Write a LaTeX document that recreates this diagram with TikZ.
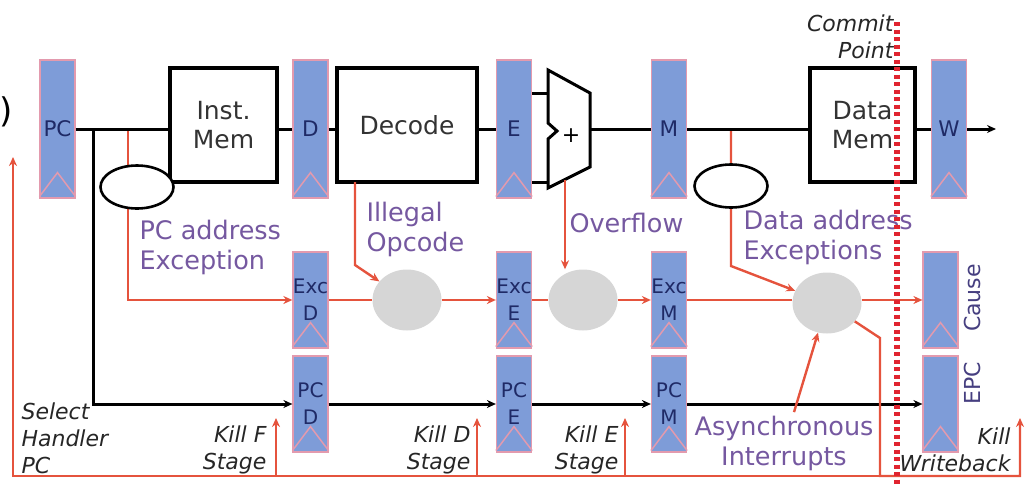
\documentclass[tikz,border=0pt]{standalone}
\usepackage{fontspec}
\setmainfont{DejaVu Sans}
\usetikzlibrary{
  positioning,
  shapes.geometric,        % ellipse ovals and blobs
  arrows.meta,             % stealth arrowheads
  calc,
  backgrounds              % wires running under the ovals
}
\definecolor{regblue}{HTML}{7E9CD8}
\definecolor{regedge}{HTML}{E39AAE}
\definecolor{regtxt}{HTML}{1F2A66}
\definecolor{exred}{HTML}{E5533D}
\definecolor{exlbl}{HTML}{7558A0}
\definecolor{blob}{HTML}{D6D6D6}
\definecolor{commitred}{HTML}{E0242F}

\begin{document}
\begin{tikzpicture}[
    x=1pt, y=-1pt,
    >={Stealth[length=9pt,width=8pt]},
    every node/.style={align=center},
    reg/.style={rectangle, fill=regblue, draw=regedge, line width=1.2pt,
                minimum width=35pt, inner sep=0pt, text=regtxt,
                font=\fontsize{21.5}{27}\selectfont},
    tallreg/.style={reg, minimum height=138pt},
    shortreg/.style={reg, minimum height=96pt, font=\fontsize{20}{27}\selectfont},
    unitbox/.style={rectangle, draw, line width=3.2pt, minimum height=114pt,
                    text=black!80, font=\fontsize{25}{29}\selectfont},
    oval/.style={ellipse, draw, line width=2.6pt, fill=white,
                 minimum width=73pt, minimum height=43pt},
    blobnode/.style={ellipse, fill=blob, minimum width=69pt, minimum height=61pt},
    wire/.style={line width=3pt},
    exwire/.style={exred, line width=2.4pt},
    exlabel/.style={text=exlbl, align=left, font=\fontsize{25.5}{30}\selectfont},
    note/.style={text=black!85, align=right, font=\fontsize{22}{27}\selectfont\itshape},
    sidetext/.style={rotate=90, text=regtxt!55!exlbl, font=\fontsize{22}{24}\selectfont},
    chev/.style={regedge, line width=1.5pt}
]
  \useasboundingbox (0,0) rectangle (1025,483);

  % pipeline registers
  \node[tallreg] (pc) at (57.5,129) {PC};
  \node[tallreg] (d)  at (310.5,129) {D};
  \node[tallreg] (e)  at (514,129) {E};
  \node[tallreg] (m)  at (669,129) {M};
  \node[tallreg] (w)  at (949,129) {W};

  \node[shortreg] (excd)  at (310.5,300) {Exc\\D};
  \node[shortreg] (exce)  at (514,300) {Exc\\E};
  \node[shortreg] (excm)  at (669,300) {Exc\\M};
  \node[shortreg] (cause) at (940.5,300) {};

  \node[shortreg] (pcd) at (310.5,404) {PC\\D};
  \node[shortreg] (pce) at (514,404) {PC\\E};
  \node[shortreg] (pcm) at (669,404) {PC\\M};
  \node[shortreg] (epc) at (940.5,404) {};

  \foreach \r in {pc,d,e,m,w,excd,exce,excm,cause,pcd,pce,pcm,epc}
    \draw[chev] ([yshift=2pt]\r.south west) -- ([yshift=26pt]\r.south)
                -- ([yshift=2pt]\r.south east);

  \node[sidetext] (causetxt) at (972,298) {Cause};
  \node[sidetext] (epctxt)   at (972,383) {EPC};

  % units
  \node[unitbox, minimum width=107pt] (imem)   at (223.5,125) {Inst.\\Mem};
  \node[unitbox, minimum width=140pt] (decode) at (407,125) {Decode};
  \node[unitbox, minimum width=105pt] (dmem)   at (862.5,125) {Data\\Mem};

  % adder
  \draw[wire, line join=miter] (548,70) -- (590,93) -- (590,167) -- (548,188)
        -- (548,139) -- (557,131) -- (548,123) -- cycle;
  \node[font=\fontsize{22}{24}\selectfont] (alu) at (571,136) {+};
  \coordinate (alua) at (548,93);
  \coordinate (alub) at (548,182);
  \coordinate (aluout) at (590,129);
  \coordinate (wout) at (996,129);

  % datapath
  \draw[wire] (pc.east) -- (pc.east -| imem.west);
  \draw[wire] (imem.east |- d.west) -- (d.west);
  \draw[wire] (d.east) -- (d.east -| decode.west);
  \draw[wire] (decode.east |- e.west) -- (e.west);
  \draw[wire] (e.east |- alua) -- (alua);
  \draw[wire] (e.east |- alub) -- (alub);
  \draw[wire] (aluout) -- (m.west);
  \draw[wire] (m.east) -- (m.east -| dmem.west);
  \draw[wire] (dmem.east |- w.west) -- (w.west);
  \draw[wire,->] (w.east) -- (wout);

  % exception sources
  \coordinate (pcj) at (93,129);
  \coordinate (pcx) at (128,129);
  \coordinate (dax) at (731,129);
  \coordinate (dabend) at (731,266);
  \coordinate (ill) at (355,182);
  \coordinate (illbend) at (355,265);
  \coordinate (ovf) at (565,180);

  \node[oval] (pcov) at (137,187) {};
  \node[oval] (daov) at (731,186) {};

  \node[blobnode] (g1) at (407,300) {};
  \node[blobnode] (g2) at (583,300) {};
  \node[blobnode] (g3) at (827,303) {};

  \begin{scope}[on background layer]
    \draw[exwire,->] (pcx) |- (excd.west);
    \draw[exwire,->] (dax) -- (dabend) -- (g3);
  \end{scope}
  \draw[exwire,->] (ill) -- (illbend) -- (g1);
  \draw[exwire,->] (ovf) -- (ovf |- g2.north);

  % exception row
  \draw[exwire] (excd.east) -- (g1);
  \draw[exwire,->] (g1) -- (exce.west);
  \draw[exwire] (exce.east) -- (g2);
  \draw[exwire,->] (g2) -- (excm.west);
  \draw[exwire] (excm.east) -- (excm.east -| g3.west);
  \draw[exwire,->] (g3.east |- cause.west) -- (cause.west);

  % pc row
  \draw[wire,->] (pcj) |- (pcd.west);
  \draw[wire,->] (pcd.east) -- (pce.west);
  \draw[wire,->] (pce.east) -- (pcm.west);
  \draw[wire,->] (pcm.east) -- (epc.west);

  % kill and handler lines
  \coordinate (bend) at (880,338);
  \coordinate (bot) at (880,476);
  \coordinate (sel) at (13,157);
  \coordinate (killf) at (276,418);
  \coordinate (killd) at (477,418);
  \coordinate (kille) at (625,418);
  \coordinate (killw) at (1020,418);
  \draw[exwire,->] (g3) -- (bend) -- (bot) -| (killw);
  \draw[exwire,->] (bot) -| (sel);
  \draw[exwire,->] (killf |- bot) -- (killf);
  \draw[exwire,->] (killd |- bot) -- (killd);
  \draw[exwire,->] (kille |- bot) -- (kille);

  \node[exlabel, anchor=west] (pcexc)   at (136,247) {PC address\\Exception};
  \node[exlabel, anchor=west] (illop)   at (363,229) {Illegal\\Opcode};
  \node[exlabel, anchor=west] (ovflow)  at (566,223) {Overflow};
  \node[exlabel, anchor=west] (daexc)   at (740,237) {Data address\\Exceptions};
  \node[exlabel, align=center] (async)  at (784,443) {Asynchronous\\Interrupts};
  \draw[exwire,->] ([xshift=10pt]async.north) -- (g3);

  % commit point
  \coordinate (cptop) at (897,22);
  \coordinate (cpbot) at (897,490);
  \draw[commitred, line width=5.5pt, dash pattern=on 4pt off 3.5pt] (cptop) -- (cpbot);

  \node[note, anchor=east] (commit) at (897,37) {Commit\\Point};
  \node[note, anchor=west, align=left] (select) at (18,438) {Select\\Handler\\PC};
  \node[note, anchor=east] (kfnote) at (270,450) {Kill F\\Stage};
  \node[note, anchor=east] (kdnote) at (474,450) {Kill D\\Stage};
  \node[note, anchor=east] (kenote) at (622,450) {Kill E\\Stage};
  \node[note, anchor=east] (kwnote) at (1014,450) {Kill\\Writeback};

  \node[font=\fontsize{34}{38}\selectfont, anchor=west, inner sep=0pt] (paren) at (-1,112) {)};
\end{tikzpicture}
\end{document}
